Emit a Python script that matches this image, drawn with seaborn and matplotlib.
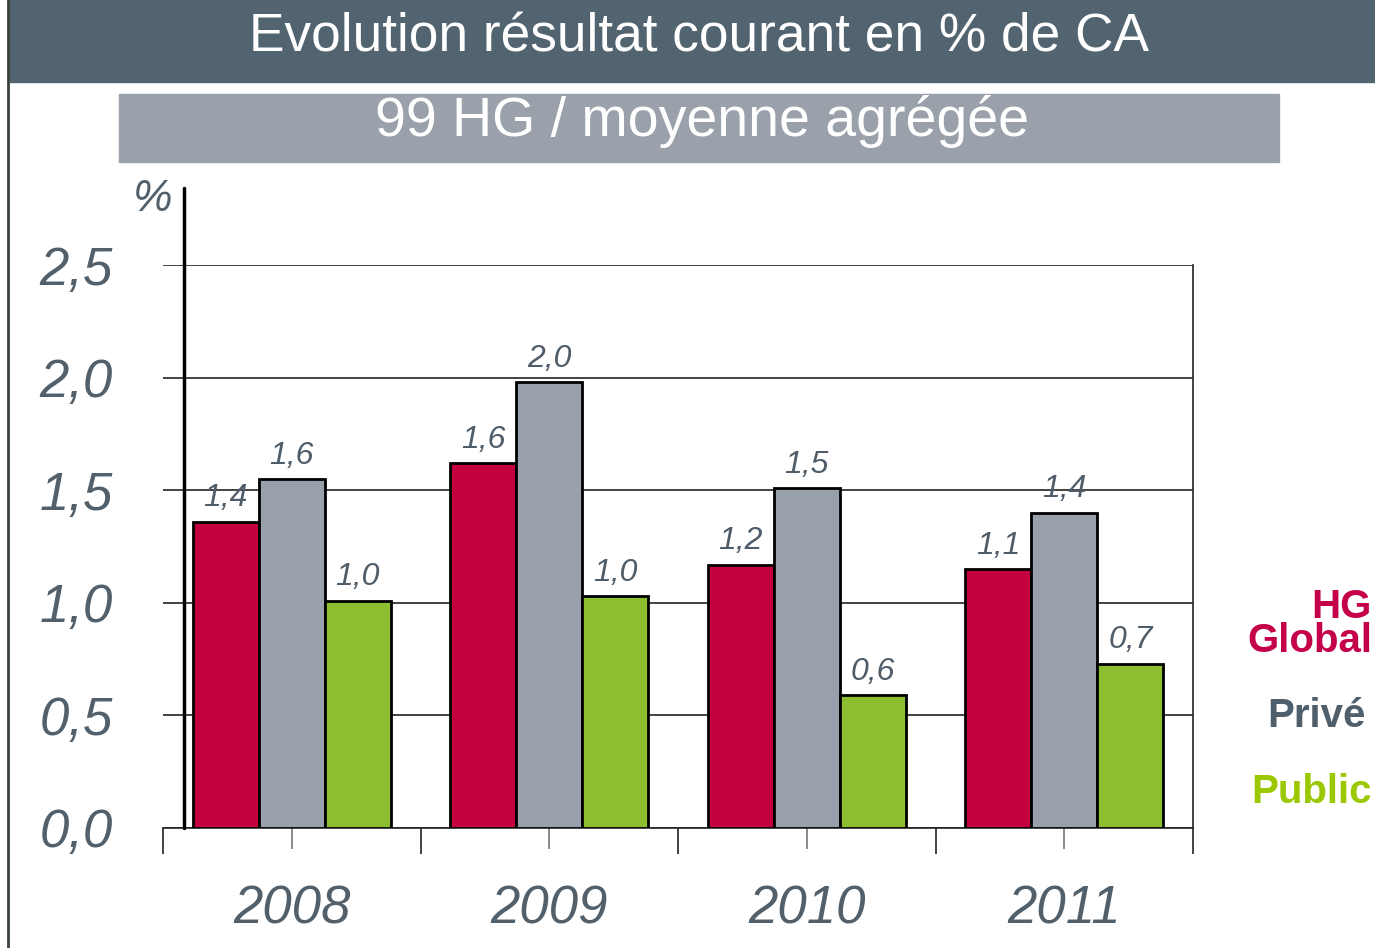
import numpy as np
import pandas as pd
import matplotlib
matplotlib.use("Agg")
import matplotlib.pyplot as plt
from matplotlib.patches import Rectangle
from matplotlib.lines import Line2D
import seaborn as sns

sns.set_style("white")
plt.rcParams['font.family'] = ['Liberation Sans', 'DejaVu Sans']

# data
years = ["2008", "2009", "2010", "2011"]
series = ["HG Global", "Privé", "Public"]
hg_global = [1.36, 1.62, 1.17, 1.15]
prive = [1.55, 1.98, 1.51, 1.40]
public = [1.01, 1.03, 0.59, 0.73]
labels_hg = ["1,4", "1,6", "1,2", "1,1"]
labels_prive = ["1,6", "2,0", "1,5", "1,4"]
labels_public = ["1,0", "1,0", "0,6", "0,7"]
yticks = [0.0, 0.5, 1.0, 1.5, 2.0, 2.5]
ytick_labels = ["0,0", "0,5", "1,0", "1,5", "2,0", "2,5"]

colors = ["#C4003F", "#98A0AB", "#8DBE2F"]
text_grey = "#52606B"

df = pd.DataFrame({
    "annee": years * 3,
    "serie": [series[0]] * 4 + [series[1]] * 4 + [series[2]] * 4,
    "valeur": hg_global + prive + public,
})

fig = plt.figure(figsize=(13.75, 9.48), dpi=100)
W, H = 1375, 948

# banners
fig.add_artist(Rectangle((8 / W, 1 - 82 / H), 1 - 8 / W, 82 / H,
                         transform=fig.transFigure, color="#526470", zorder=0))
fig.add_artist(Rectangle((119 / W, 1 - 162 / H), 1160 / W, 68 / H,
                         transform=fig.transFigure, color="#9AA1AB", zorder=0))
fig.add_artist(Line2D([8 / W, 8 / W], [0, 1], transform=fig.transFigure,
                      color="#3A443A", lw=2))
fig.text(699 / W, 1 - 38 / H, "Evolution résultat courant en % de CA",
         color="white", fontsize=38.3, ha="center", va="center")
fig.text(702 / W, 1 - 122 / H, "99 HG / moyenne agrégée",
         color="white", fontsize=40, ha="center", va="center")

ax = fig.add_axes([163 / W, 1 - 828 / H, 1030 / W, 563 / H])
sns.barplot(data=df, x="annee", y="valeur", hue="serie", hue_order=series,
            palette=colors, width=0.77, edgecolor="black", linewidth=2,
            saturation=1, ax=ax, legend=False, zorder=3)

ax.set_ylim(0, 2.5)
ax.set_xlim(-0.5, 3.5)
ax.set_yticks(yticks)
ax.set_yticklabels(ytick_labels)
ax.yaxis.grid(True, color="#222222", lw=1.2, zorder=0)
ax.set_axisbelow(True)
ax.set_xlabel("")
ax.set_ylabel("")

for side in ["left", "top"]:
    ax.spines[side].set_visible(False)
for side in ["right", "bottom"]:
    ax.spines[side].set_color("#222222")
    ax.spines[side].set_linewidth(1.2)

ax.tick_params(axis="y", length=0, pad=36, labelsize=38, labelcolor=text_grey)
for t in ax.get_yticklabels():
    t.set_fontstyle("italic")
ax.set_xticks([-0.5, 0.5, 1.5, 2.5, 3.5], minor=True)
ax.tick_params(axis="x", which="minor", length=19, width=1.2, color="#222222", bottom=True)
ax.tick_params(axis="x", which="major", length=15, width=1.2, color="#777777",
               pad=26, labelsize=38, labelcolor=text_grey, bottom=True)
for t in ax.get_xticklabels():
    t.set_fontstyle("italic")

# vertical axis line with % marker
ax.plot([21 / 1030, 21 / 1030], [0, 1.137], transform=ax.transAxes,
        color="black", lw=2.5, clip_on=False, zorder=4)
ax.text(0.009, 1.117, "%", transform=ax.transAxes, fontsize=32,
        fontstyle="italic", color=text_grey, ha="right", va="center")

for cont, labs in zip(ax.containers, [labels_hg, labels_prive, labels_public]):
    ax.bar_label(cont, labels=labs, padding=6, fontsize=23, color="#4E5D69",
                 fontstyle="italic")

# right-hand legend
fig.text(1372 / W, 1 - 652 / H, "HG\nGlobal", color="#C4004A", fontsize=29,
         fontweight="bold", ha="right", va="baseline", multialignment="right",
         linespacing=0.85)
fig.text(1366 / W, 1 - 727 / H, "Privé", color="#4F5F6B", fontsize=29,
         fontweight="bold", ha="right", va="baseline")
fig.text(1372 / W, 1 - 803 / H, "Public", color="#9BC800", fontsize=29,
         fontweight="bold", ha="right", va="baseline")

fig.savefig("out.png", dpi=100)
